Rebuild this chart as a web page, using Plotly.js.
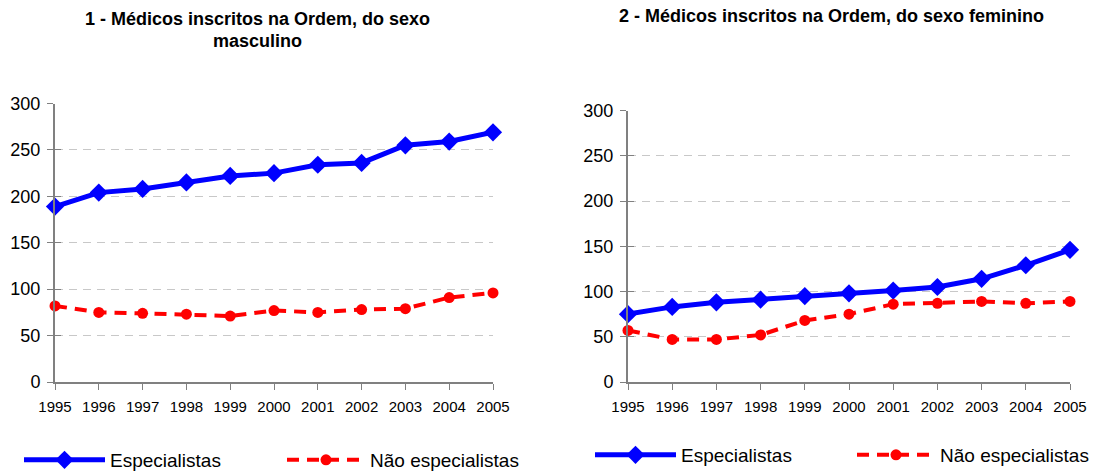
<!DOCTYPE html>
<html>
<head>
<meta charset="utf-8">
<script src="https://cdn.plot.ly/plotly-3.0.1.min.js"></script>
<style>html,body{margin:0;padding:0;background:#fff;}#chart{width:1095px;height:473px;}</style>
</head>
<body>
<div id="chart"></div>
<script>
const years = [1995,1996,1997,1998,1999,2000,2001,2002,2003,2004,2005];
const maleSpecialists = [189,204,208,215,222,225,234,236,255,259,269];
const maleNonSpecialists = [82,75,74,73,71,77,75,78,79,91,96];
const femaleSpecialists = [75,83,88,91,95,98,101,105,114,129,146];
const femaleNonSpecialists = [57,47,47,52,68,75,86,87,89,87,89];
const yTicks = [0,50,100,150,200,250,300];
const gridTicks = [50,100,150,200,250];
const seriesNames = ['Especialistas','Não especialistas'];
const titles = ['1 - Médicos inscritos na Ordem, do sexo','masculino','2 - Médicos inscritos na Ordem, do sexo feminino'];

const W = 1095, H = 473;
const FONT = 'Liberation Sans, Arial, sans-serif';
const px = v => v / W, py = v => 1 - v / H;

const blue = '#0000FF', red = '#FF0000', axisGrey = '#808080';

function specTrace(y, xa, ya, leg) {
  return {x: years, y: y, xaxis: xa, yaxis: ya, legend: leg, name: seriesNames[0],
    mode: 'lines+markers', cliponaxis: false,
    line: {color: blue, width: 5},
    marker: {symbol: 'diamond', size: 14, color: blue}};
}
function nonTrace(y, xa, ya, leg) {
  return {x: years, y: y, xaxis: xa, yaxis: ya, legend: leg, name: seriesNames[1],
    mode: 'lines+markers', cliponaxis: false,
    line: {color: red, width: 4, dash: '12px,8px'},
    marker: {symbol: 'circle', size: 11, color: red}};
}
const data = [
  specTrace(maleSpecialists, 'x', 'y', 'legend'),
  nonTrace(maleNonSpecialists, 'x', 'y', 'legend2'),
  specTrace(femaleSpecialists, 'x2', 'y2', 'legend3'),
  nonTrace(femaleNonSpecialists, 'x2', 'y2', 'legend4'),
  {x: [], y: [], xaxis: 'x', yaxis: 'y3', showlegend: false},
  {x: [], y: [], xaxis: 'x2', yaxis: 'y4', showlegend: false}
];

function xAxis(domain, anchor) {
  return {domain: domain, anchor: anchor, range: [1995, 2005], tickvals: years, ticktext: years.map(String),
    showline: true, linecolor: axisGrey, linewidth: 2, ticks: 'outside', ticklen: 6, tickcolor: axisGrey,
    tickwidth: 1, ticklabelstandoff: 4, showgrid: false, zeroline: false, automargin: false,
    tickfont: {family: FONT, size: 15, color: '#000'}, fixedrange: true};
}
function yAxis(domain, anchor) {
  return {domain: domain, anchor: anchor, range: [0, 300], tickvals: yTicks,
    showline: true, linecolor: axisGrey, linewidth: 2, ticks: 'outside', ticklen: 6, tickcolor: axisGrey,
    tickwidth: 1, ticklabelstandoff: 3, showgrid: false, zeroline: false, automargin: false,
    tickfont: {family: FONT, size: 18, color: '#000'}, fixedrange: true};
}
function gridAxis(over, anchor) {
  return {overlaying: over, anchor: anchor, range: [0, 300], tickvals: gridTicks, showticklabels: false,
    showgrid: true, gridcolor: '#c8c8c8', gridwidth: 1, griddash: '8px,6px', ticks: 'inside', ticklen: 6,
    tickcolor: axisGrey, showline: false, zeroline: false, automargin: false, fixedrange: true};
}
function legendAt(x, y, iw) {
  return {orientation: 'h', x: px(x), y: py(y), xanchor: 'left', yanchor: 'middle',
    itemwidth: iw, borderwidth: 0, font: {family: FONT, size: 19, color: '#000'}, bgcolor: 'rgba(0,0,0,0)'};
}

const layout = {
  width: W, height: H, paper_bgcolor: '#fff', plot_bgcolor: 'rgba(0,0,0,0)',
  margin: {l: 0, r: 0, t: 0, b: 0, autoexpand: false},
  font: {family: FONT, color: '#000'},
  xaxis: xAxis([px(55), px(493)], 'y'),
  yaxis: yAxis([py(382), py(103.5)], 'x'),
  xaxis2: xAxis([px(628), px(1070)], 'y2'),
  yaxis2: yAxis([py(382), py(110.5)], 'x2'),
  yaxis3: gridAxis('y', 'x'),
  yaxis4: gridAxis('y2', 'x2'),
  legend: legendAt(19, 460, 81),
  legend2: legendAt(282, 460, 78),
  legend3: legendAt(590, 455, 81),
  legend4: legendAt(852, 455, 78),
  annotations: [
    {text: '<b>' + titles[0] + '</b>', x: px(257), y: py(19), xref: 'paper', yref: 'paper', showarrow: false,
      xanchor: 'center', yanchor: 'middle', font: {family: FONT, size: 18, color: '#000'}},
    {text: '<b>' + titles[1] + '</b>', x: px(257), y: py(41), xref: 'paper', yref: 'paper', showarrow: false,
      xanchor: 'center', yanchor: 'middle', font: {family: FONT, size: 18, color: '#000'}},
    {text: '<b>' + titles[2] + '</b>', x: px(831), y: py(16), xref: 'paper', yref: 'paper', showarrow: false,
      xanchor: 'center', yanchor: 'middle', font: {family: FONT, size: 18, color: '#000'}}
  ],
  showlegend: true
};

Plotly.newPlot('chart', data, layout, {displayModeBar: false, staticPlot: true});
</script>
</body>
</html>
